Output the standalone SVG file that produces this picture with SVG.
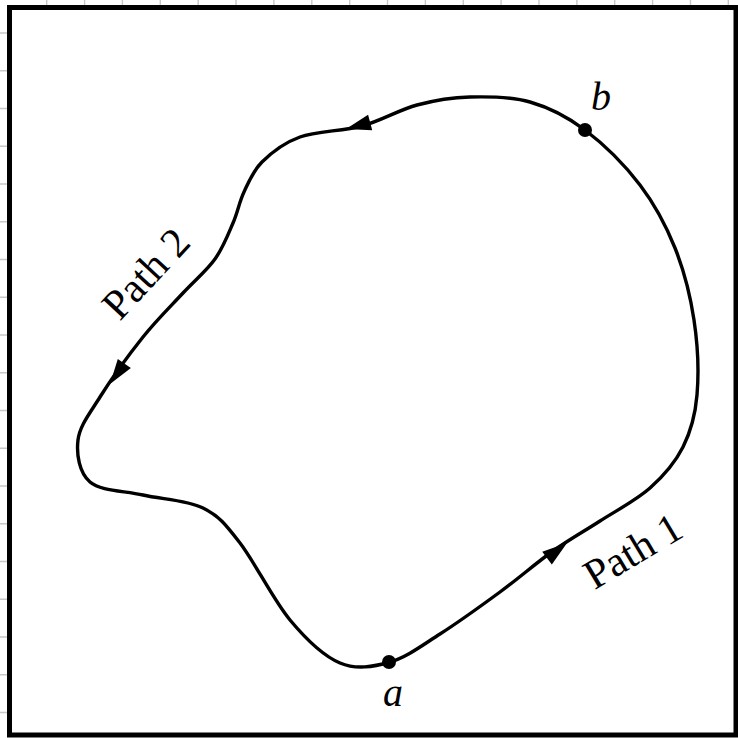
<svg xmlns="http://www.w3.org/2000/svg" width="738" height="738" viewBox="0 0 738 738">
<style>
.tick{stroke:#c8c8c8;stroke-width:1.4;fill:none}
.frame{fill:#fff;stroke:#000;stroke-width:5}
.curve{fill:none;stroke:#000;stroke-width:3.4;stroke-linejoin:round}
.lbl{font-family:"Liberation Serif","Times New Roman",serif;font-size:42px;fill:#000}
.it{font-style:italic;font-size:40px}
</style>
<defs>
<path id="arr" d="M0,0 L-25,-8 L-25,8 Z" fill="#000"/>
</defs>
<g id="ticks">
<path class="tick" d="M0,33H22M0,70.75H22M0,108.5H22M0,146.25H22M0,184H22M0,221.75H22M0,259.5H22M0,297.25H22M0,335H22M0,372.75H22M0,410.5H22M0,448.25H22M0,486H22M0,523.75H22M0,561.5H22M0,599.25H22M0,637H22M0,674.75H22M0,712.5H22"/>
<path class="tick" d="M46.7,0V11M84.6,0V11M122.4,0V11M160.3,0V11M198.2,0V11M236,0V11M273.9,0V11M311.8,0V11M349.7,0V11M387.5,0V11M425.4,0V11M463.3,0V11M501.1,0V11M539,0V11M576.9,0V11M614.7,0V11M652.6,0V11M690.5,0V11M728.3,0V11"/>
</g>
<rect class="frame" x="9.5" y="7.5" width="726.5" height="727.5"/>
<g id="connectors">
<path class="curve" d="M390,662 C406.7,657.2 421.7,645.7 440,634 C458.3,622.3 481.2,605.8 500,592 C518.8,578.2 536.3,562.8 553,551 C569.7,539.2 583.8,531.5 600,521 C616.2,510.5 636.2,500.3 650,488 C663.8,475.7 675.2,462.5 683,447 C690.8,431.5 695.2,416.2 697,395 C698.8,373.8 697.7,344.5 694,320 C690.3,295.5 684,270.5 675,248 C666,225.5 655,204.7 640,185 C625,165.3 603.3,143.8 585,130 C566.7,116.2 549.2,107.5 530,102 C510.8,96.5 488.8,96.5 470,97 C451.2,97.5 435,100.2 417,105 C399,109.8 381.5,120.7 362,126 C342.5,131.3 316.7,131 300,137 C283.3,143 271.3,152.8 262,162 C252.7,171.2 248.8,181.8 244,192 C239.2,202.2 237.8,211.8 233,223 C228.2,234.2 223.3,247.3 215,259 C206.7,270.7 195,280 183,293 C171,306 156.8,319.7 143,337 C129.2,354.3 110.8,379.8 100,397 C89.2,414.2 79.7,425.8 78,440 C76.3,454.2 79.2,472.8 90,482 C100.8,491.2 124.2,490.7 143,495 C161.8,499.3 186.8,500 203,508 C219.2,516 225.5,524.3 240,543 C254.5,561.7 273.3,600 290,620 C306.7,640 323.3,656 340,663 C356.7,670 373.3,666.8 390,662 Z"/>
<use href="#arr" transform="translate(346,129) rotate(165)"/>
<use href="#arr" transform="translate(110,384) rotate(125)"/>
<use href="#arr" transform="translate(567,543) rotate(-37)"/>
</g>
<g id="node-a">
<circle cx="389" cy="662" r="7" fill="#000"/>
<text class="lbl it" x="393" y="706" text-anchor="middle">a</text>
</g>
<g id="node-b">
<circle cx="585" cy="130" r="7" fill="#000"/>
<text class="lbl it" x="601" y="110" text-anchor="middle">b</text>
</g>
<g id="label-path1">
<text class="lbl" x="0" y="0" text-anchor="middle" transform="translate(640,563) rotate(-31)">Path 1</text>
</g>
<g id="label-path2">
<text class="lbl" x="0" y="0" text-anchor="middle" transform="translate(156,283) rotate(-47)">Path 2</text>
</g>
</svg>
